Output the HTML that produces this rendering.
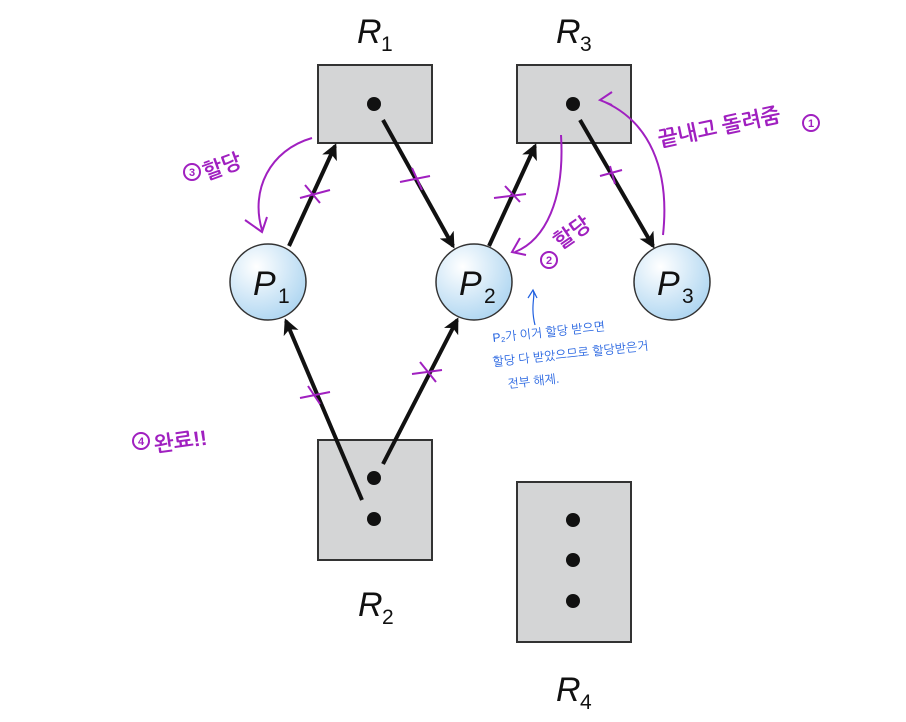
<!DOCTYPE html>
<html><head><meta charset="utf-8"><style>
body{margin:0;background:#fff;width:906px;height:722px;overflow:hidden}
svg{display:block}
.lab{font-family:"Liberation Sans",sans-serif;font-style:italic;font-size:34px;fill:#111}
.sub{font-family:"Liberation Sans",sans-serif;font-size:21px;fill:#111}
.pk{font-family:"Liberation Sans","NanumGothic","Noto Sans CJK KR",sans-serif;fill:#a020c0;font-size:21px;font-weight:bold}
.num{font-family:"Liberation Sans",sans-serif;fill:#a020c0;font-size:11px;font-weight:bold;text-anchor:middle}
.bl{font-family:"Liberation Sans","NanumGothic","Noto Sans CJK KR",sans-serif;fill:#2060e0;font-size:12px}
</style></head><body>
<svg width="906" height="722" viewBox="0 0 906 722">
<defs>
<radialGradient id="g" cx="0.35" cy="0.3" r="0.8"><stop offset="0" stop-color="#ffffff"/><stop offset="1" stop-color="#a9d3f0"/></radialGradient>
<marker id="a" markerWidth="16" markerHeight="16" refX="13" refY="8" orient="auto" markerUnits="userSpaceOnUse" viewBox="0 0 16 16"><path d="M0,0 L16,8 L0,16 L4,8z" fill="#111"/></marker>
</defs>
<g fill="#d4d5d6" stroke="#333" stroke-width="2">
<rect x="318" y="65" width="114" height="78"/>
<rect x="517" y="65" width="114" height="78"/>
<rect x="318" y="440" width="114" height="120"/>
<rect x="517" y="482" width="114" height="160"/>
</g>
<g fill="#111">
<circle cx="374" cy="104" r="7"/><circle cx="573" cy="104" r="7"/>
<circle cx="374" cy="478" r="7"/><circle cx="374" cy="519" r="7"/>
<circle cx="573" cy="520" r="7"/><circle cx="573" cy="560" r="7"/><circle cx="573" cy="601" r="7"/>
</g>
<g stroke="#111" stroke-width="4" marker-end="url(#a)" fill="none">
<line x1="289" y1="246" x2="335" y2="146"/>
<line x1="383" y1="120" x2="453" y2="246"/>
<line x1="489" y1="246" x2="535" y2="146"/>
<line x1="580" y1="120" x2="653" y2="246"/>
<line x1="362" y1="500" x2="286" y2="321"/>
<line x1="383" y1="464" x2="457" y2="320"/>
</g>
<g stroke="#333" stroke-width="1.5" fill="url(#g)">
<circle cx="268" cy="282" r="38"/><circle cx="474" cy="282" r="38"/><circle cx="672" cy="282" r="38"/>
</g>
<text class="lab" x="253" y="295">P</text><text class="sub" x="278" y="303">1</text>
<text class="lab" x="459" y="295">P</text><text class="sub" x="484" y="303">2</text>
<text class="lab" x="657" y="295">P</text><text class="sub" x="682" y="303">3</text>
<text class="lab" x="357" y="43">R</text><text class="sub" x="381" y="51">1</text>
<text class="lab" x="556" y="43">R</text><text class="sub" x="580" y="51">3</text>
<text class="lab" x="358" y="616">R</text><text class="sub" x="382" y="624">2</text>
<text class="lab" x="556" y="701">R</text><text class="sub" x="580" y="709">4</text>
<g stroke="#a020c0" stroke-width="2" fill="none">
<path d="M300,198 l30,-8 M305,185 l15,18"/>
<path d="M400,182 l30,-6 M412,168 l10,22"/>
<path d="M494,198 l32,-4 M505,186 l15,16"/>
<path d="M600,176 l22,-6 M610,166 l5,18"/>
<path d="M300,398 l30,-6 M308,386 l12,18"/>
<path d="M412,374 l30,-4 M420,362 l16,20"/>
<path d="M312,138 C270,150 250,190 262,230 M245,220 l17,12 l5,-15"/>
<path d="M561,135 C565,200 545,240 515,252 M520,238 l-8,14 l14,3"/>
<path d="M663,235 C670,170 650,120 600,100 M612,92 l-12,8 l12,5"/>
<circle cx="192" cy="172" r="8"/><circle cx="549" cy="260" r="8"/><circle cx="811" cy="123" r="8"/><circle cx="141" cy="441" r="8"/>
</g>
<text class="num" x="192" y="176">3</text><text class="pk" x="206" y="180" transform="rotate(-20 206 180)">할당</text>
<text class="num" x="549" y="264">2</text><text class="pk" x="560" y="250" transform="rotate(-35 560 250)">할당</text>
<text class="pk" x="660" y="147" transform="rotate(-12 660 147)">끝내고 돌려줌</text><text class="num" x="811" y="127">1</text>
<text class="num" x="141" y="445">4</text><text class="pk" x="155" y="452" transform="rotate(-8 155 452)">완료!!</text>
<path d="M535,325 C530,305 536,295 533,290 M528,298 l5,-8 l4,8" stroke="#2060e0" stroke-width="1.2" fill="none"/>
<text class="bl" x="493" y="342" transform="rotate(-6 493 342)">P₂가 이거 할당 받으면</text>
<text class="bl" x="493" y="366" transform="rotate(-6 493 366)">할당 다 받았으므로 할당받은거</text>
<text class="bl" x="508" y="388" transform="rotate(-6 508 388)">전부 해제.</text>
</svg>
</body></html>
